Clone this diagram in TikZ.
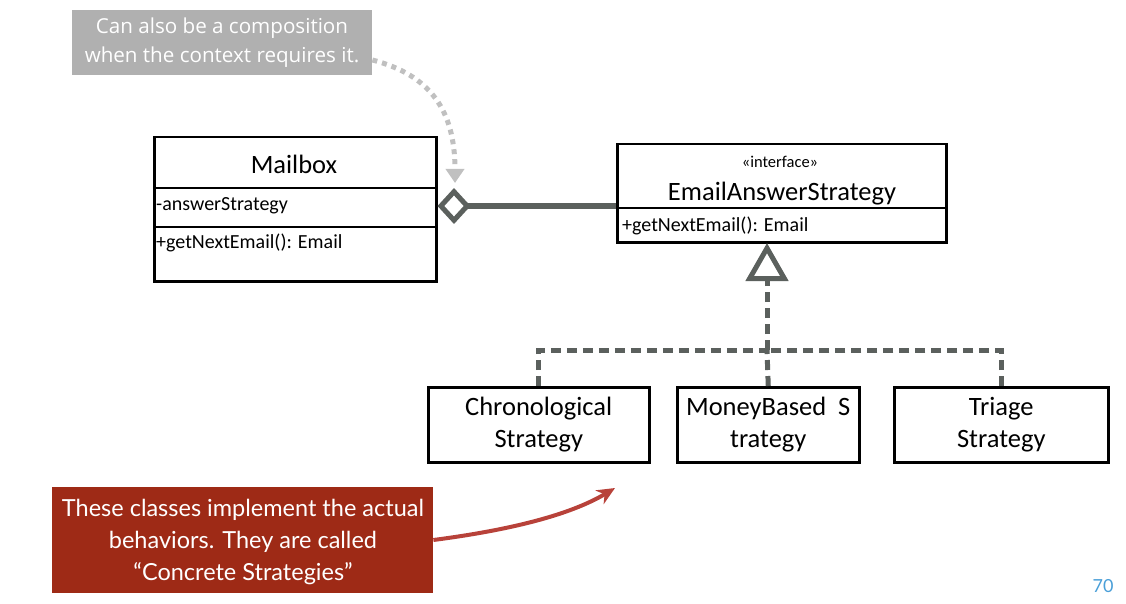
\documentclass[tikz,border=0pt]{standalone}
\usepackage{fontspec}
\setmainfont{Carlito}
\newfontfamily\notefont{Open Sans}
\newfontfamily\redfont{Lato}
\usetikzlibrary{arrows.meta}
\definecolor{lgray}{HTML}{5B605D}
\definecolor{notegray}{HTML}{B0B0B0}
\definecolor{dotgray}{HTML}{C0C0C0}
\definecolor{redbox}{HTML}{9E2A16}
\definecolor{redarrow}{HTML}{B8423A}
\definecolor{pageblue}{HTML}{4A9FD8}
\tikzset{
  classbox/.style={draw=black, line width=2.5pt, rectangle, inner sep=0pt},
  divider/.style={draw=black, line width=2.5pt},
  bigtxt/.style={font=\fontsize{26.5}{32}\selectfont, inner sep=0pt, align=center},
  smalltxt/.style={font=\fontsize{20}{22}\selectfont, inner sep=0pt, anchor=west},
  realize/.style={draw=lgray, line width=5pt, dash pattern=on 10pt off 6pt},
}
\begin{document}
\begin{tikzpicture}[x=1pt,y=-1pt]
\useasboundingbox (0,0) rectangle (1126,604);

% note box
\node (note) [fill=notegray, minimum width=300pt, minimum height=65pt, inner sep=0pt, anchor=north west] at (72,10) {};
\node (notetxt) [text=white, font=\notefont\fontsize{20.6}{29}\selectfont, align=center, inner sep=0pt] at (222,43) {Can also be a composition\\when the context requires it.};

% Mailbox
\node (mb) [classbox, minimum width=282pt, minimum height=144pt, anchor=north west] at (153,136) {};
\draw[divider] (153,188) -- (435,188);
\draw[divider] (153,227) -- (435,227);
\node (mbname) [bigtxt] at (294,164) {Mailbox};
\node (mbattr) [smalltxt] at (156,206) {-answerStrategy};
\node (mbop) [smalltxt] at (156,243) {+getNextEmail(): Email};

% Interface
\node (iface) [classbox, minimum width=329pt, minimum height=98pt, anchor=north west] at (616,143) {};
\draw[divider] (616,208) -- (945,208);
\node (ster) [font=\fontsize{16.5}{18}\selectfont, inner sep=0pt] at (780,162) {«interface»};
\node (ifname) [bigtxt] at (782,194) {EmailAnswerStrategy};
\node (ifop) [smalltxt] at (622,226) {+getNextEmail(): Email};

% aggregation
\draw[draw=lgray, line width=6pt, -{Diamond[open, length=33pt, width=36pt, line width=5pt]}] (iface.west |- mbattr) -- (mb.east |- mbattr);

% concrete strategies
\node (chrono) [classbox, bigtxt, minimum width=221pt, minimum height=75pt, anchor=north west] at (427,386) {Chronological\\Strategy};
\node (money) [classbox, bigtxt, minimum width=182pt, minimum height=75pt, anchor=north west] at (676,386) {MoneyBased\ \ S\\trategy};
\node (triage) [classbox, bigtxt, minimum width=214pt, minimum height=75pt, anchor=north west] at (893,386) {Triage\\Strategy};

\coordinate (j) at (767,350);
\draw[realize, -{Triangle[open, length=38pt, width=42pt, line width=5pt]}] (j) -- (767,243);
\draw[realize] (chrono.north) |- (j);
\draw[realize] (triage.north) |- (j);
\draw[realize] (money.north) -- (j);

% dotted note arrow
\draw[draw=dotgray, line width=5pt, dash pattern=on 5pt off 5pt, -{Triangle[length=14pt, width=18pt]}] (note.east |- 0,60) .. controls (430,75) and (455,110) .. (455,183);

% red note
\node (red) [fill=redbox, minimum width=381pt, minimum height=106pt, inner sep=0pt, anchor=north west] at (52,487) {};
\node (redtxt) [text=white, font=\redfont\fontsize{23.5}{32}\selectfont, align=center, inner sep=0pt] at (243,542) {These classes implement the actual\\behaviors. They are called\\“Concrete Strategies”};
\draw[draw=redarrow, line width=4pt, -{Stealth[length=18pt, width=16pt]}] (red.east |- 0,540) .. controls (510,530) and (570,515) .. (615,488);

% page number
\node (pg) [text=pageblue, font=\redfont\fontsize{18}{20}\selectfont, inner sep=0pt] at (1103,586) {70};
\end{tikzpicture}
\end{document}
